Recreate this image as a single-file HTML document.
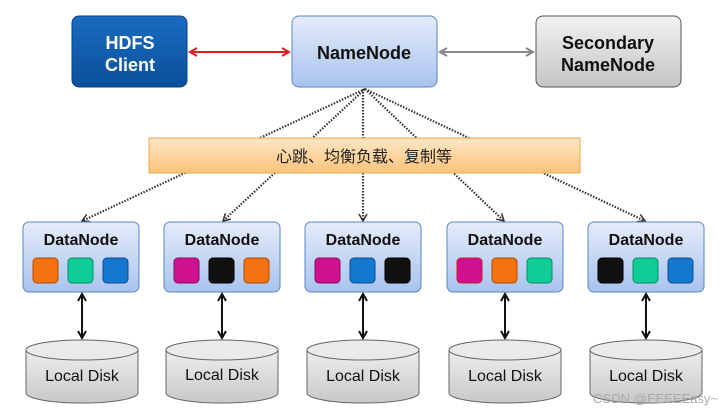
<!DOCTYPE html>
<html><head><meta charset="utf-8"><style>
html,body{margin:0;padding:0;background:#fff;width:719px;height:416px;overflow:hidden}
text{font-family:"Liberation Sans",Arial,sans-serif;font-weight:bold}
</style></head><body>
<svg width="719" height="416" viewBox="0 0 719 416" xmlns="http://www.w3.org/2000/svg">
<defs>
<linearGradient id="gb" x1="0" y1="0" x2="0" y2="1"><stop offset="0" stop-color="#1a6cc0"/><stop offset="1" stop-color="#0a4f9a"/></linearGradient>
<linearGradient id="gl" x1="0" y1="0" x2="0" y2="1"><stop offset="0" stop-color="#e4ecfa"/><stop offset="1" stop-color="#a9c3ee"/></linearGradient>
<linearGradient id="gg" x1="0" y1="0" x2="0" y2="1"><stop offset="0" stop-color="#f2f2f2"/><stop offset="1" stop-color="#c4c4c4"/></linearGradient>
<linearGradient id="go" x1="0" y1="0" x2="0" y2="1"><stop offset="0" stop-color="#fde7c4"/><stop offset="1" stop-color="#fbc27a"/></linearGradient>
<linearGradient id="gd" x1="0" y1="0" x2="0" y2="1"><stop offset="0" stop-color="#eeeeee"/><stop offset="1" stop-color="#c8c8c8"/></linearGradient>
<marker id="ar" markerUnits="userSpaceOnUse" markerWidth="10" markerHeight="10" refX="8" refY="5" orient="auto-start-reverse"><path d="M1,1 L8,5 L1,9" fill="none" stroke="#e02020" stroke-width="2"/></marker>
<marker id="ag" markerUnits="userSpaceOnUse" markerWidth="10" markerHeight="10" refX="8" refY="5" orient="auto-start-reverse"><path d="M1,1 L8,5 L1,9" fill="none" stroke="#888" stroke-width="2"/></marker>
<marker id="ak" markerUnits="userSpaceOnUse" markerWidth="10" markerHeight="10" refX="8" refY="5" orient="auto-start-reverse"><path d="M1,1 L8,5 L1,9" fill="none" stroke="#111" stroke-width="2"/></marker>
<marker id="ad" markerUnits="userSpaceOnUse" markerWidth="10" markerHeight="10" refX="8" refY="5" orient="auto"><path d="M1,1 L8,5 L1,9" fill="none" stroke="#333" stroke-width="1.5"/></marker>
</defs>

<g stroke="#333" stroke-width="2.2" stroke-dasharray="1.5,1.5" fill="none">
<line x1="365" y1="89" x2="82" y2="221" marker-end="url(#ad)"/>
<line x1="365" y1="89" x2="223" y2="221" marker-end="url(#ad)"/>
<line x1="363" y1="89" x2="363" y2="221" marker-end="url(#ad)"/>
<line x1="365" y1="89" x2="504" y2="221" marker-end="url(#ad)"/>
<line x1="365" y1="89" x2="645" y2="221" marker-end="url(#ad)"/>
</g>

<rect x="149" y="138" width="431" height="35" fill="url(#go)" stroke="#e8a84a" stroke-width="1"/>
<text x="364" y="162" text-anchor="middle" font-size="16" style="font-weight:normal;font-family:'Liberation Sans','Noto Sans CJK SC',sans-serif" fill="#222">心跳、均衡负载、复制等</text>

<rect x="72" y="16" width="115" height="71" rx="7" fill="url(#gb)" stroke="#0a3f80"/>
<text x="130" y="49" text-anchor="middle" font-size="18" fill="#fff">HDFS</text>
<text x="130" y="71" text-anchor="middle" font-size="18" fill="#fff">Client</text>

<rect x="292" y="16" width="145" height="71" rx="7" fill="url(#gl)" stroke="#5a86c0"/>
<text x="364" y="59" text-anchor="middle" font-size="18" fill="#111">NameNode</text>

<rect x="536" y="16" width="145" height="71" rx="7" fill="url(#gg)" stroke="#555"/>
<text x="608" y="49" text-anchor="middle" font-size="18" fill="#111">Secondary</text>
<text x="608" y="71" text-anchor="middle" font-size="18" fill="#111">NameNode</text>

<line x1="190" y1="52" x2="289" y2="52" stroke="#e02020" stroke-width="2" marker-start="url(#ar)" marker-end="url(#ar)"/>
<line x1="440" y1="52" x2="533" y2="52" stroke="#888" stroke-width="2" marker-start="url(#ag)" marker-end="url(#ag)"/>

<g font-size="16">
<g transform="translate(23,0)">
<rect x="0" y="222" width="116" height="70" rx="6" fill="url(#gl)" stroke="#5a86c0"/>
<text x="58" y="245" text-anchor="middle" fill="#111">DataNode</text>
<rect x="10" y="258" width="25" height="25" rx="4" fill="#f4720f" stroke="#b04a00"/>
<rect x="45" y="258" width="25" height="25" rx="4" fill="#10cc96" stroke="#0a8a66"/>
<rect x="80" y="258" width="25" height="25" rx="4" fill="#1477d0" stroke="#0a4f90"/>
</g>
<g transform="translate(164,0)">
<rect x="0" y="222" width="116" height="70" rx="6" fill="url(#gl)" stroke="#5a86c0"/>
<text x="58" y="245" text-anchor="middle" fill="#111">DataNode</text>
<rect x="10" y="258" width="25" height="25" rx="4" fill="#d0108f" stroke="#8a0a5e"/>
<rect x="45" y="258" width="25" height="25" rx="4" fill="#111" stroke="#000"/>
<rect x="80" y="258" width="25" height="25" rx="4" fill="#f4720f" stroke="#b04a00"/>
</g>
<g transform="translate(305,0)">
<rect x="0" y="222" width="116" height="70" rx="6" fill="url(#gl)" stroke="#5a86c0"/>
<text x="58" y="245" text-anchor="middle" fill="#111">DataNode</text>
<rect x="10" y="258" width="25" height="25" rx="4" fill="#d0108f" stroke="#8a0a5e"/>
<rect x="45" y="258" width="25" height="25" rx="4" fill="#1477d0" stroke="#0a4f90"/>
<rect x="80" y="258" width="25" height="25" rx="4" fill="#111" stroke="#000"/>
</g>
<g transform="translate(447,0)">
<rect x="0" y="222" width="116" height="70" rx="6" fill="url(#gl)" stroke="#5a86c0"/>
<text x="58" y="245" text-anchor="middle" fill="#111">DataNode</text>
<rect x="10" y="258" width="25" height="25" rx="4" fill="#d0108f" stroke="#c0202a"/>
<rect x="45" y="258" width="25" height="25" rx="4" fill="#f4720f" stroke="#b04a00"/>
<rect x="80" y="258" width="25" height="25" rx="4" fill="#10cc96" stroke="#0a8a66"/>
</g>
<g transform="translate(588,0)">
<rect x="0" y="222" width="116" height="70" rx="6" fill="url(#gl)" stroke="#5a86c0"/>
<text x="58" y="245" text-anchor="middle" fill="#111">DataNode</text>
<rect x="10" y="258" width="25" height="25" rx="4" fill="#111" stroke="#000"/>
<rect x="45" y="258" width="25" height="25" rx="4" fill="#10cc96" stroke="#0a8a66"/>
<rect x="80" y="258" width="25" height="25" rx="4" fill="#1477d0" stroke="#0a4f90"/>
</g>
</g>

<g font-size="16">
<g transform="translate(82,0)">
<line x1="0" y1="294" x2="0" y2="338" stroke="#111" stroke-width="2" marker-start="url(#ak)" marker-end="url(#ak)"/>
<path d="M-56,350 L-56,393 A56,10 0 0 0 56,393 L56,350" fill="url(#gd)" stroke="#666"/>
<ellipse cx="0" cy="350" rx="56" ry="10" fill="#eaeaea" stroke="#666"/>
<text x="0" y="381" text-anchor="middle" fill="#111" style="font-weight:normal">Local Disk</text>
</g>
<g transform="translate(222,0)">
<line x1="0" y1="294" x2="0" y2="338" stroke="#111" stroke-width="2" marker-start="url(#ak)" marker-end="url(#ak)"/>
<path d="M-56,350 L-56,393 A56,10 0 0 0 56,393 L56,350" fill="url(#gd)" stroke="#666"/>
<ellipse cx="0" cy="350" rx="56" ry="10" fill="#eaeaea" stroke="#666"/>
<text x="0" y="380" text-anchor="middle" fill="#111" style="font-weight:normal">Local Disk</text>
</g>
<g transform="translate(363,0)">
<line x1="0" y1="294" x2="0" y2="338" stroke="#111" stroke-width="2" marker-start="url(#ak)" marker-end="url(#ak)"/>
<path d="M-56,350 L-56,393 A56,10 0 0 0 56,393 L56,350" fill="url(#gd)" stroke="#666"/>
<ellipse cx="0" cy="350" rx="56" ry="10" fill="#eaeaea" stroke="#666"/>
<text x="0" y="381" text-anchor="middle" fill="#111" style="font-weight:normal">Local Disk</text>
</g>
<g transform="translate(505,0)">
<line x1="0" y1="294" x2="0" y2="338" stroke="#111" stroke-width="2" marker-start="url(#ak)" marker-end="url(#ak)"/>
<path d="M-56,350 L-56,393 A56,10 0 0 0 56,393 L56,350" fill="url(#gd)" stroke="#666"/>
<ellipse cx="0" cy="350" rx="56" ry="10" fill="#eaeaea" stroke="#666"/>
<text x="0" y="381" text-anchor="middle" fill="#111" style="font-weight:normal">Local Disk</text>
</g>
<g transform="translate(646,0)">
<line x1="0" y1="294" x2="0" y2="338" stroke="#111" stroke-width="2" marker-start="url(#ak)" marker-end="url(#ak)"/>
<path d="M-56,350 L-56,393 A56,10 0 0 0 56,393 L56,350" fill="url(#gd)" stroke="#666"/>
<ellipse cx="0" cy="350" rx="56" ry="10" fill="#eaeaea" stroke="#666"/>
<text x="0" y="381" text-anchor="middle" fill="#111" style="font-weight:normal">Local Disk</text>
</g>
</g>
<text x="718" y="403" text-anchor="end" font-size="13" fill="#aaa" style="font-weight:normal">CSDN @EEEEEasy~</text>
</svg>
</body></html>
